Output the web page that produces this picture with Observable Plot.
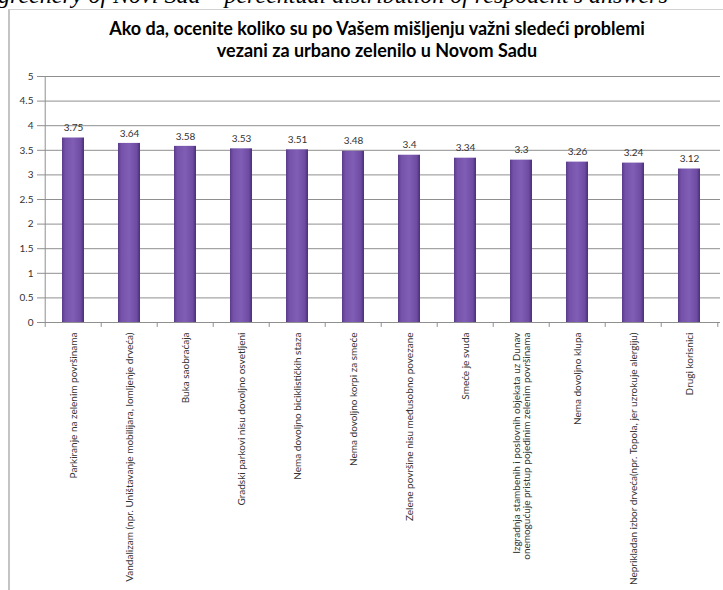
<!DOCTYPE html>
<html><head><meta charset="utf-8">
<script src="https://cdn.jsdelivr.net/npm/d3@7"></script>
<script src="https://cdn.jsdelivr.net/npm/@observablehq/plot@0.6"></script>
<style>
body{margin:0;width:723px;height:590px;overflow:hidden;position:relative;background:#fff;font-family:Lato,sans-serif}
#cap{position:absolute;left:-2px;top:-17px;font:italic 24px/24px "Liberation Serif",serif;white-space:nowrap;color:#000}
#frame{position:absolute;left:8px;top:9px;width:760px;height:600px;border-left:2px solid #c4c4c4;border-top:1px solid #d2d2d2}
#title{position:absolute;left:0;width:754px;top:17px;text-align:center;font:bold 18px/22px Lato,sans-serif;color:#000}
#chart{position:absolute;left:9px;top:60px}
</style></head>
<body>
<div id="cap">greenery of Novi Sad – percentual distribution of respodent's answers</div>
<div id="frame"></div>
<div id="title">Ako da, ocenite koliko su po Vašem mišljenju važni sledeći problemi<br>vezani za urbano zelenilo u Novom Sadu</div>
<div id="chart"></div>
<script>
const categories = [
  "Parkiranje na zelenim površinama",
  "Vandalizam (npr. Uništavanje mobilijara, lomljenje drveća)",
  "Buka saobraćaja",
  "Gradski parkovi nisu dovoljno osvetljeni",
  "Nema dovoljno biciklističkih staza",
  "Nema dovoljno korpi za smeće",
  "Zelene površine nisu međusobno povezane",
  "Smeće je svuda",
  "Izgradnja stambenih i poslovnih objekata uz Dunav\nonemogućuje pristup pojedinim zelenim površinama",
  "Nema dovoljno klupa",
  "Neprikladan izbor drveća(npr. Topola, jer uzrokuje alergiju)",
  "Drugi korisnici"
];
const values = [3.75, 3.64, 3.58, 3.53, 3.51, 3.48, 3.4, 3.34, 3.3, 3.26, 3.24, 3.12];
const yTicks = [0, 0.5, 1, 1.5, 2, 2.5, 3, 3.5, 4, 4.5, 5];

const data = categories.map((c, i) => ({c, v: values[i]}));
const W = 714, H = 530, ML = 32, MR = 3, MT = 16, MB = 268;
const step = (W - ML - MR) / categories.length;

const chart = Plot.plot({
  width: W, height: H,
  marginLeft: ML, marginRight: MR, marginTop: MT, marginBottom: MB,
  style: {fontFamily: "Lato, sans-serif", fontSize: "10px", color: "#333", background: "transparent"},
  x: {domain: categories, paddingInner: 0.61, paddingOuter: 0.305, label: null},
  y: {domain: [0, 5], label: null},
  marks: [
    Plot.gridY(yTicks, {stroke: "#8f8f8f", strokeOpacity: 1}),
    Plot.ruleY([0], {stroke: "#8f8f8f"}),
    Plot.ruleX(categories.slice(0, 1), {x: d => d, dx: -step / 2, y1: 0, y2: 5, stroke: "#8f8f8f"}),
    Plot.ruleX(categories, {x: d => d, dx: -step / 2, y1: 0, y2: -0.1, stroke: "#8f8f8f"}),
    Plot.ruleX(categories.slice(-1), {x: d => d, dx: step / 2, y1: 0, y2: -0.1, stroke: "#8f8f8f"}),
    Plot.axisY(yTicks, {tickSize: 4, tickPadding: 4, stroke: "#8f8f8f", fill: "#333", fontSize: 10, tickFormat: d => String(d), label: null}),
    Plot.axisX({tickSize: 0, tickPadding: 10, tickRotate: -90, fill: "#333", fontSize: 10, label: null}),
    Plot.barY(data, {x: "c", y: "v", fill: "url(#barGrad)"}),
    Plot.tickY(data, {x: "c", y: "v", stroke: "url(#capGrad)", strokeWidth: 3, dy: 2}),
    Plot.text(data, {x: "c", y: "v", text: d => String(d.v), dy: -10, fontSize: 10, fill: "#333"})
  ]
});
chart.insertAdjacentHTML("afterbegin", `<defs>
<linearGradient id="barGrad" x1="0" x2="1" y1="0" y2="0">
<stop offset="0" stop-color="#5a3a8a"/><stop offset="0.15" stop-color="#7552aa"/>
<stop offset="0.5" stop-color="#815eb6"/><stop offset="0.85" stop-color="#6e4ca2"/>
<stop offset="1" stop-color="#4b2e78"/></linearGradient>
<linearGradient id="capGrad" x1="0" x2="1" y1="0" y2="0">
<stop offset="0" stop-color="#9a7cc8"/><stop offset="0.5" stop-color="#c8b2ee"/>
<stop offset="1" stop-color="#9276c0"/></linearGradient></defs>`);
document.getElementById("chart").appendChild(chart);
</script>
</body></html>
